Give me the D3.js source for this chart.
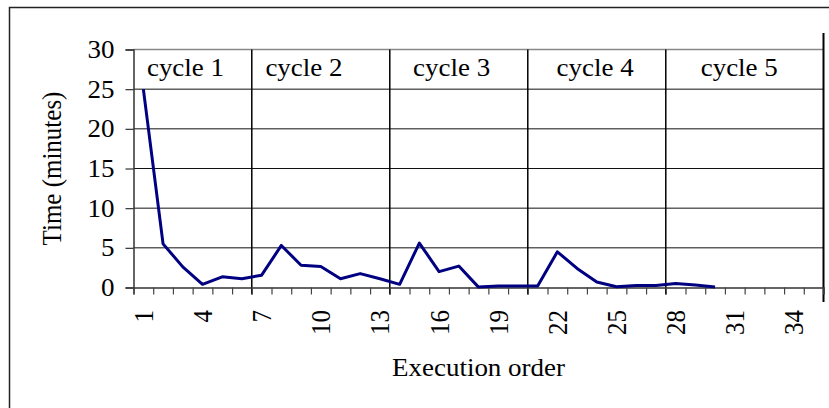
<!DOCTYPE html>
<html>
<head>
<meta charset="utf-8">
<script src="https://cdn.jsdelivr.net/npm/d3@7"></script>
<style>
  html, body { margin: 0; padding: 0; background: #fff; }
  svg { display: block; }
  text { font-family: "Liberation Serif", "Times New Roman", serif; fill: #000; }
</style>
</head>
<body>
<svg id="chart" width="829" height="408"></svg>
<script>
// ---- data ----
const executionOrder = d3.range(1, 36);           // categories 1..35
const timeMinutes = [25, 5.5, 2.6, 0.4, 1.35, 1.1, 1.55, 5.3, 2.8, 2.65,
                     1.1, 1.75, 1.1, 0.4, 5.6, 2.0, 2.7, 0.05, 0.2, 0.2,
                     0.2, 4.5, 2.4, 0.7, 0.1, 0.25, 0.25, 0.5, 0.3, 0.05];
const yTicks = [0, 5, 10, 15, 20, 25, 30];
const xTickLabels = [1, 4, 7, 10, 13, 16, 19, 22, 25, 28, 31, 34];
const cycleNames = ["cycle 1", "cycle 2", "cycle 3", "cycle 4", "cycle 5"];
const cycleEnds = [6, 13, 20, 27];                 // boundary after these categories
const cycleLabelStart = [0.68, 6.69, 14.18, 21.46, 28.77]; // in category units

// ---- layout ----
const svg = d3.select("#chart");
const pLeft = 133.5, pRight = 823.5, pTop = 49.5, pBottom = 287.5;
const x = d3.scaleLinear().domain([0, executionOrder.length]).range([pLeft, pRight]);
const y = d3.scaleLinear().domain([0, 30]).range([pBottom, pTop]);
const font = 25;
const sx = 1.08; // horizontal stretch of the reference rendering

// outer frame
svg.append("rect").attr("x", 9.5).attr("y", 7.5).attr("width", 900).attr("height", 500)
  .attr("fill", "none").attr("stroke", "#222").attr("stroke-width", 1.5);

// gridlines
svg.append("g").selectAll("line").data(yTicks.filter(d => d > 0)).join("line")
  .attr("x1", pLeft).attr("x2", pRight)
  .attr("y1", d => y(d)).attr("y2", d => y(d))
  .attr("stroke", d => d === 30 ? "#888" : "#111").attr("stroke-width", d => d === 30 ? 1.5 : 1);

// cycle boundaries
svg.append("g").selectAll("line").data(cycleEnds).join("line")
  .attr("x1", d => x(d)).attr("x2", d => x(d))
  .attr("y1", pTop).attr("y2", pBottom + 7)
  .attr("stroke", "#000").attr("stroke-width", 1.5);
svg.append("line")
  .attr("x1", x(executionOrder.length)).attr("x2", x(executionOrder.length))
  .attr("y1", 33).attr("y2", 302)
  .attr("stroke", "#000").attr("stroke-width", 2);

// y axis
const yAxis = svg.append("g").attr("transform", `translate(${pLeft},0)`)
  .call(d3.axisLeft(y).tickValues(yTicks).tickSize(8).tickPadding(11));
yAxis.select(".domain").attr("stroke", "#333").attr("stroke-width", 1.5);
yAxis.selectAll(".tick line").attr("stroke", "#333").attr("stroke-width", 1.2);
yAxis.selectAll(".tick text")
  .attr("transform", function() { return `translate(${this.getAttribute("x")},0) scale(${sx},1)`; })
  .attr("x", 0)
  .attr("font-size", font)
  .style("font-family", '"Liberation Serif", serif').attr("fill", "#000");

// x axis (ticks at category boundaries)
const xAxis = svg.append("g").attr("transform", `translate(0,${pBottom})`)
  .call(d3.axisBottom(x).tickValues(d3.range(0, executionOrder.length + 1))
    .tickSize(7).tickFormat(""));
xAxis.select(".domain").attr("stroke", "#333").attr("stroke-width", 1.5);
xAxis.selectAll(".tick line").attr("stroke", "#444").attr("stroke-width", 1.2);

// x tick labels (rotated)
svg.append("g").selectAll("text").data(xTickLabels).join("text")
  .attr("transform", d => `translate(${x(d - 0.5)},310) scale(${sx},1) rotate(-90)`)
  .attr("text-anchor", "end").attr("dy", "0.35em")
  .attr("font-size", font).text(d => d);

// axis titles
svg.append("text")
  .attr("transform", `translate(${(pLeft + pRight) / 2},376) scale(${sx},1)`)
  .attr("text-anchor", "middle").attr("font-size", font).text("Execution order");
svg.append("text")
  .attr("transform", `translate(61,${(pTop + pBottom) / 2}) scale(${sx},1) rotate(-90)`)
  .attr("text-anchor", "middle").attr("font-size", font).text("Time (minutes)");

// cycle labels
svg.append("g").selectAll("text").data(cycleNames).join("text")
  .attr("transform", (d, i) => `translate(${x(cycleLabelStart[i])},76) scale(${sx},1)`)
  .attr("font-size", font).text(d => d);

// data line
const line = d3.line().x((d, i) => x(i + 0.5)).y(d => y(d));
svg.append("path").datum(timeMinutes).attr("d", line)
  .attr("fill", "none").attr("stroke", "#000080").attr("stroke-width", 3)
  .attr("stroke-linejoin", "round");
</script>
</body>
</html>
